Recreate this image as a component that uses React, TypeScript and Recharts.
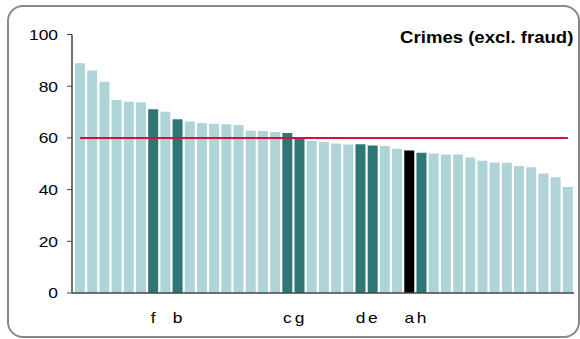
import React from "react";
import { BarChart, Bar, XAxis, YAxis, Cell, ReferenceLine } from "recharts";

const values = [
  88.9, 86.1, 81.7, 74.7, 74.0, 73.8, 71.1, 70.1, 67.2, 66.3, 65.8, 65.5, 65.3, 65.0,
  62.8, 62.7, 62.3, 61.9, 60.3, 58.8, 58.4, 57.8, 57.4, 57.5, 57.1, 56.9, 55.8, 55.1,
  54.3, 54.0, 53.6, 53.6, 52.4, 51.2, 50.5, 50.4, 49.1, 48.6, 46.2, 44.8, 41.0,
];

const labels = [
  "", "", "", "", "", "", "f", "", "b", "", "", "", "", "",
  "", "", "", "c", "g", "", "", "", "", "d", "e", "", "", "a",
  "h", "", "", "", "", "", "", "", "", "", "", "", "",
];

// 0 = other, 1 = highlighted, 2 = selected
const kinds = [
  0, 0, 0, 0, 0, 0, 1, 0, 1, 0, 0, 0, 0, 0,
  0, 0, 0, 1, 1, 0, 0, 0, 0, 1, 1, 0, 0, 2,
  1, 0, 0, 0, 0, 0, 0, 0, 0, 0, 0, 0, 0,
];

const yTicks = [0, 20, 40, 60, 80, 100];
const threshold = 60;
const title = "Crimes (excl. fraud)";

const colors = ["#aed4d7", "#2f7777", "#000000"];

const data = values.map((v, i) => ({ id: i, value: v, label: labels[i], kind: kinds[i] }));

const font = "Arial, 'Liberation Sans', sans-serif";
const stretch = 1.16;

function YTick(props: any) {
  const { x, y, payload } = props;
  return (
    <g transform={`translate(${x},${y}) scale(${stretch},1)`}>
      <text x={0} y={0} dy="0.355em" textAnchor="end" fill="#000" fontSize={15} fontFamily={font}>
        {payload.value}
      </text>
    </g>
  );
}

function XTick(props: any) {
  const { x, y, payload } = props;
  const lab = labels[payload.value];
  if (!lab) return null;
  return (
    <g transform={`translate(${x},${y}) scale(${stretch},1)`}>
      <text x={0} y={0} dy="0.71em" textAnchor="middle" fill="#000" fontSize={15} fontFamily={font}>
        {lab}
      </text>
    </g>
  );
}

export default function App() {
  return (
    <div style={{ position: "absolute", left: 0, top: 0, width: 580, height: 339, overflow: "hidden", background: "#fff" }}>
      <div
        style={{
          position: "absolute",
          left: 7,
          top: 5,
          width: 573,
          height: 333,
          border: "2px solid #888",
          borderRadius: 16,
          boxSizing: "border-box",
        }}
      />
      <div
        style={{
          position: "absolute",
          right: 7,
          top: 29,
          fontFamily: font,
          fontWeight: "bold",
          fontSize: 16,
          color: "#000",
          whiteSpace: "nowrap",
          transform: `scaleX(${stretch})`,
          transformOrigin: "right center",
        }}
      >
        {title}
      </div>
      <div style={{ position: "absolute", left: 0, top: 0 }}>
        <BarChart
          width={580}
          height={339}
          data={data}
          margin={{ top: 34.5, right: 6, bottom: 16, left: 0 }}
          barSize={10}
        >
          <XAxis
            dataKey="id"
            type="category"
            interval={0}
            tickLine={false}
            tickSize={0}
            tickMargin={19}
            padding={{ left: 2, right: 0 }}
            axisLine={{ stroke: "#444", strokeWidth: 1.5 }}
            tick={<XTick />}
            height={30}
          />
          <YAxis
            domain={[0, 100]}
            ticks={yTicks}
            width={72}
            tickSize={5}
            tickMargin={9}
            axisLine={{ stroke: "#444", strokeWidth: 1.5 }}
            tickLine={{ stroke: "#444" }}
            tick={<YTick />}
          />
          <Bar dataKey="value" isAnimationActive={false}>
            {data.map((d) => (
              <Cell key={d.id} fill={colors[d.kind]} />
            ))}
          </Bar>
          <ReferenceLine
            segment={[
              { x: 0, y: threshold },
              { x: values.length - 1, y: threshold },
            ]}
            stroke="#d2143c"
            strokeWidth={2}
          />
        </BarChart>
      </div>
    </div>
  );
}
